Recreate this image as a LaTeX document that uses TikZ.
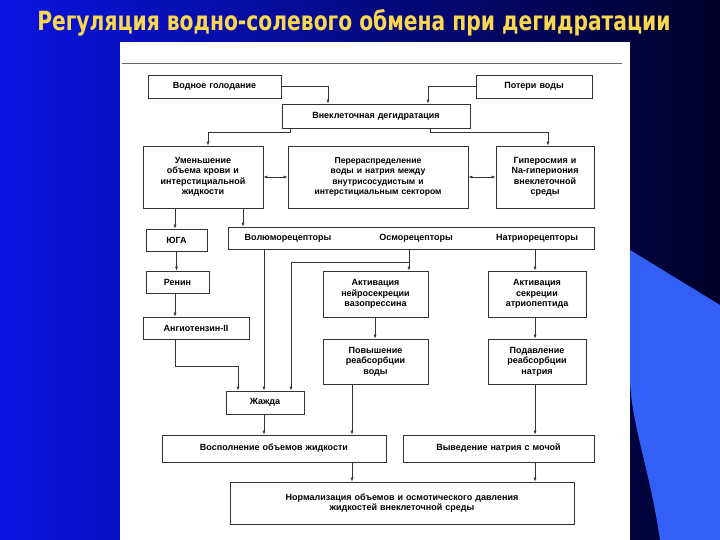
\documentclass[tikz,border=0pt]{standalone}
\usepackage{fontspec}
\setmainfont{Liberation Sans}
\newfontfamily\titlefont{DejaVu Sans Condensed Bold}
\usetikzlibrary{arrows.meta}
\definecolor{bgA}{RGB}{10,20,225}
\definecolor{bgB}{RGB}{0,0,40}
\definecolor{lblue}{RGB}{50,95,245}
\definecolor{ttl}{RGB}{250,215,80}
\begin{document}
\begin{tikzpicture}[x=1pt,y=-1pt,
  bx/.style={draw=black!80,line width=0.8pt,fill=white,inner sep=1pt,align=center,font=\bfseries\fontsize{9}{10.5}\selectfont},
  ar/.style={-{Latex[length=4pt,width=3pt]},line width=0.6pt,black!80},
  dar/.style={{Latex[length=4pt,width=3pt]}-{Latex[length=4pt,width=3pt]},line width=0.6pt,black!80}]
\useasboundingbox (0,0) rectangle (720,540);
\shade[left color=bgA,right color=bgB] (0,0) rectangle (720,540);
\fill[lblue] (630,250) -- (720,305) -- (720,540) -- (660,540) .. controls (650,470) and (630,420) .. (630,377) -- cycle;
\node[text=ttl,font=\titlefont\fontsize{23}{26}\selectfont,xscale=0.98,yscale=1.15] (title) at (354,23) {Регуляция водно-солевого обмена при дегидратации};
\fill[white] (120,42) rectangle (630,540);
\draw[black!60,line width=0.6pt] (122,63) -- (622,63);
\newcommand{\bxx}[6]{\node[bx,minimum width=#4-#2,minimum height=#5-#3,text width=#4-#2-4] (#1) at ({(#2+#4)/2},{(#3+#5)/2+1}) {#6};}
\bxx{vg}{148}{74}{281}{97}{Водное голодание}
\bxx{pv}{476}{74}{592}{97}{Потери воды}
\bxx{vd}{282}{103}{470}{127}{Внеклеточная дегидратация}
\bxx{um}{143}{145}{263}{207}{Уменьшение\\объема крови и\\интерстициальной\\жидкости}
\bxx{pr}{288}{145}{468}{207}{\fontsize{8.6}{10.5}\selectfont Перераспределение\\воды и натрия между\\внутрисосудистым и\\интерстициальным сектором}
\bxx{gi}{496}{145}{594}{207}{Гиперосмия и\\Na-гипериония\\внеклеточной\\среды}
\bxx{yu}{146}{228}{207}{250}{ЮГА}
\bxx{rc}{228}{226}{594}{248}{}
\node[font=\bfseries\fontsize{9}{10.5}\selectfont] (vol) at (288,238) {Волюморецепторы};
\node[font=\bfseries\fontsize{9}{10.5}\selectfont] (osm) at (416,238) {Осморецепторы};
\node[font=\bfseries\fontsize{9}{10.5}\selectfont] (nat) at (537,238) {Натриорецепторы};
\bxx{rn}{146}{270}{209}{292}{Ренин}
\bxx{an}{143}{316}{249}{338}{Ангиотензин-II}
\bxx{ak}{323}{270}{428}{316}{Активация\\нейросекреции\\вазопрессина}
\bxx{at}{488}{270}{586}{316}{Активация\\секреции\\атриопептида}
\bxx{pw}{323}{338}{428}{383}{Повышение\\реабсорбции\\воды}
\bxx{pd}{488}{338}{586}{383}{Подавление\\реабсорбции\\натрия}
\bxx{zh}{226}{390}{304}{413}{Жажда}
\bxx{vs}{162}{434}{386}{461}{Восполнение объемов жидкости}
\bxx{vv}{403}{434}{594}{461}{Выведение натрия с мочой}
\bxx{nm}{230}{481}{574}{523}{Нормализация объемов и осмотического давления\\жидкостей внеклеточной среды}
\draw[ar] (vg.east) -| (vd.north -| 328,0);
\draw[ar] (pv.west) -| (vd.north -| 428,0);
\draw[ar] (vd.south -| 290,0) -- (290,132) -| (um.north -| 208,0);
\draw[ar] (vd.south -| 430,0) -- (430,132) -| (gi.north -| 548,0);
\draw[dar] (um.east) -- (pr.west);
\draw[dar] (pr.east) -- (gi.west);
\draw[ar] (um.south -| 175,0) -- (yu.north -| 175,0);
\draw[ar] (um.south -| 243,0) -- (rc.north -| 243,0);
\draw[ar] (yu) -- (rn.north -| yu.south);
\draw[ar] (rn.south -| 175,0) -- (an.north -| 175,0);
\draw[ar] (an.south -| 175,0) -- (175,366) -| (zh.north -| 238,0);
\draw[ar] (rc.south -| 264,0) -- (zh.north -| 264,0);
\draw[ar] (rc.south -| 409,0) -- (ak.north -| 409,0);
\draw[ar] (409,262) -- (291,262) -- (zh.north -| 291,0);
\draw[ar] (rc.south -| 535,0) -- (at.north -| 535,0);
\draw[ar] (ak.south -| 375,0) -- (pw.north -| 375,0);
\draw[ar] (at.south -| 535,0) -- (pd.north -| 535,0);
\draw[ar] (pw.south -| 352,0) -- (vs.north -| 352,0);
\draw[ar] (zh.south -| 264,0) -- (vs.north -| 264,0);
\draw[ar] (pd.south -| 535,0) -- (vv.north -| 535,0);
\draw[ar] (vs.south -| 352,0) -- (nm.north -| 352,0);
\draw[ar] (vv.south -| 535,0) -- (nm.north -| 535,0);
\end{tikzpicture}
\end{document}
